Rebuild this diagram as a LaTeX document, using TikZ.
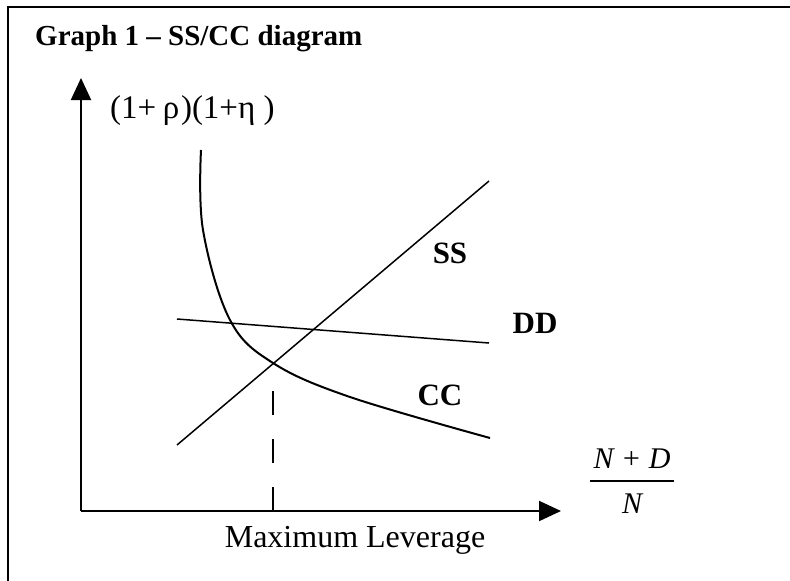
\documentclass[tikz,border=0pt]{standalone}
\usepackage{fontspec}
\setmainfont{Liberation Serif}
\usetikzlibrary{arrows.meta, positioning, calc}

\begin{document}
\begin{tikzpicture}[x=1pt, y=-1pt,
  axisline/.style={line width=2pt, -{Triangle[length=22pt, width=20pt]}},
  curveline/.style={line width=1.5pt},
  curvelabel/.style={font=\fontsize{31}{36}\selectfont\bfseries, inner sep=0pt},
  fraclabel/.style={anchor=base, inner sep=0pt, font=\fontsize{30}{34}\selectfont\itshape}]
  \useasboundingbox (0,0) rectangle (790,581);
  % frame
  \draw[line width=2pt] (8,581) -- (8,7) -- (790,7);
  \node[anchor=base west, inner sep=0pt, font=\fontsize{29}{34}\selectfont\bfseries] (title) at (35,45) {Graph 1 -- SS/CC diagram};

  \coordinate (O) at (81,511);
  \coordinate (ytip) at (81,78);
  \coordinate (xtip) at (561,511);
  \draw[axisline] (O) -- (ytip);
  \draw[axisline] (O) -- (xtip);

  \node[anchor=base west, inner sep=0pt, font=\fontsize{33}{38}\selectfont] (ylab) at (110,118)
    {(1+\hspace{.2em}ρ\hspace{.05em})(1+η\hspace{.25em})};

  % x axis label as a fraction
  \node[fraclabel] (num) at (632,468) {N\hspace{.25em}+\hspace{.25em}D};
  \node[fraclabel] (den) at (632,513) {N};
  \coordinate (barl) at (590,481);
  \coordinate (barr) at (674,481);
  \draw[line width=1.3pt] (barl) -- (barr);

  \coordinate (ss0) at (177,445);
  \coordinate (ss1) at (489,181);
  \coordinate (dd0) at (177,319);
  \coordinate (dd1) at (489,343);
  \draw[curveline] (ss0) -- (ss1);
  \draw[curveline] (dd0) -- (dd1);
  \draw[line width=2pt] plot[smooth, tension=0.6] coordinates {(201,150) (203,230) (230,320) (273,363) (350,397) (490,438)};

  \coordinate (eq) at (273,390);
  \coordinate (lev) at (273,511);
  \draw[line width=1.5pt, dash pattern=on 24pt off 24pt] (lev) -- (eq);

  \node[curvelabel] (SS) at (450,253) {SS};
  \node[curvelabel] (DD) at (535,323) {DD};
  \node[curvelabel] (CC) at (440,395) {CC};
  \node[anchor=base, inner sep=0pt, font=\fontsize{32}{38}\selectfont] (maxlev) at (355,547) {Maximum Leverage};
\end{tikzpicture}
\end{document}
